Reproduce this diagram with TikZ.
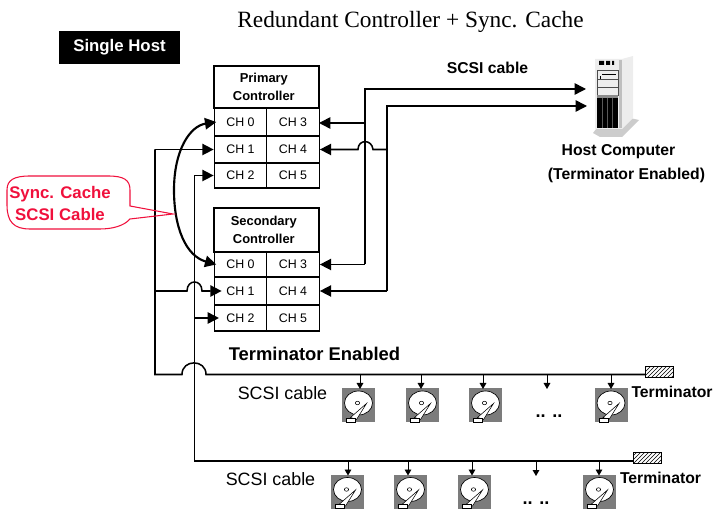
\documentclass[tikz,border=0pt]{standalone}
\usepackage{fontspec}
\setmainfont{Liberation Sans}
\newfontfamily\titlefont{Liberation Serif}
\usetikzlibrary{arrows.meta,patterns}
\definecolor{callred}{HTML}{F0103C}
\definecolor{diskgray}{HTML}{7C7C7C}
\tikzset{
  cable/.style={line width=1.15pt},
  cablearrow/.style={cable, -{Triangle[length=8.5pt,width=8.5pt]}},
  synccable/.style={line width=1.6pt, {Triangle[length=8.5pt,width=8.5pt]}-{Triangle[length=8.5pt,width=8.5pt]}},
  droparrow/.style={line width=0.7pt, -{Triangle[length=4.5pt,width=5pt]}},
  ctlbox/.style={draw, line width=0.9pt, minimum width=78.75pt, align=center, font=\fontsize{9.7}{13.5}\selectfont\bfseries},
  chcell/.style={draw, line width=0.9pt, minimum width=39.4pt, inner sep=0pt, font=\fontsize{9.3}{11}\selectfont},
  boldlabel/.style={font=\fontsize{11.8}{18}\selectfont\bfseries, align=center},
  plainlabel/.style={font=\fontsize{13.4}{16}\selectfont},
  dotslabel/.style={font=\fontsize{13.6}{16}\selectfont\bfseries},
  termbox/.style={draw, line width=0.6pt, pattern=north east lines, minimum width=21.5pt, minimum height=8.6pt, inner sep=0pt},
  pics/hdd/.style={code={
    \fill[diskgray] (-16.5,-17.5) rectangle (16.5,17);
    \draw[line width=0.5pt, fill=white] (0,-2.5) ellipse [x radius=10.5pt, y radius=9pt];
    \draw[line width=0.4pt] (-1,-2.5) ellipse [x radius=1.6pt, y radius=1.3pt];
    \draw[line width=0.4pt, fill=white] (8,-2) -- (-8,12) -- (-2,14) -- cycle;
    \draw[line width=0.4pt, fill=white] (-12,12.5) rectangle (-3,16.5);
  }}
}
\begin{document}
\begin{tikzpicture}[x=0.75pt, y=-0.75pt]
  \useasboundingbox (0,0) rectangle (714,509);

  % title and host tag
  \node[font=\titlefont\fontsize{17.5}{20}\selectfont] (title) at (410.5,21.5) {Redundant Controller + Sync. Cache};
  \node[fill=black, text=white, minimum width=90.75pt, minimum height=24.75pt, inner sep=0pt,
        font=\fontsize{12.6}{15}\selectfont\bfseries] (hosttag) at (119.5,47.5) {Single Host};

  % primary controller
  \node[ctlbox, minimum height=31.5pt] (pctl) at (266.5,87) {Primary\hspace*{4pt}\\Controller\hspace*{4pt}};
  \node[chcell, minimum height=21pt] (pch0) at (240.5,122) {CH 0};
  \node[chcell, minimum height=20.25pt] (pch1) at (240.5,149.5) {CH 1};
  \node[chcell, minimum height=18.75pt] (pch2) at (240.5,175.5) {CH 2};
  \node[chcell, minimum height=21pt] (pch3) at (293,122) {CH 3};
  \node[chcell, minimum height=20.25pt] (pch4) at (293,149.5) {CH 4};
  \node[chcell, minimum height=18.75pt] (pch5) at (293,175.5) {CH 5};

  % secondary controller
  \node[ctlbox, minimum height=33pt] (sctl) at (266.5,230) {Secondary\hspace*{4pt}\\Controller\hspace*{4pt}};
  \node[chcell, minimum height=18.75pt] (sch0) at (240.5,264.5) {CH 0};
  \node[chcell, minimum height=21pt] (sch1) at (240.5,291) {CH 1};
  \node[chcell, minimum height=19.5pt] (sch2) at (240.5,318) {CH 2};
  \node[chcell, minimum height=18.75pt] (sch3) at (293,264.5) {CH 3};
  \node[chcell, minimum height=21pt] (sch4) at (293,291) {CH 4};
  \node[chcell, minimum height=19.5pt] (sch5) at (293,318) {CH 5};

  % host computer
  \fill[black!20] (593,133) -- (603,120) -- (630,118) -- (639,120) -- (622,137) -- (600,137) -- cycle;
  \fill[black!7] (595,59) -- (622,59) -- (633,56) -- (633,118) -- (622,129) -- (595,129) -- cycle;
  \fill[black!25] (619,60) rectangle (622,128);
  \draw[black!70, line width=0.5pt] (597,70) rectangle (618,95);
  \draw[black!70, line width=0.5pt] (597,79) -- (618,79) (597,87) -- (618,87);
  \draw[line width=0.5pt] (602,74.5) -- (616,74.5) (600,76) -- (600,79);
  \fill (599,61) rectangle (604,65) (606,61) rectangle (610,65) (612,61) rectangle (614,65);
  \fill[black!45] (597,95.5) rectangle (618,98);
  \fill (597,98) rectangle (618,128);
  \foreach \x in {602,607,612} {
    \draw[black!65, line width=0.3pt] (\x,98) -- (\x,128);
  }
  \coordinate (hostA) at (586,89);
  \coordinate (hostB) at (587,106);
  \node[boldlabel] (hostlabel) at (626.5,164) {Host Computer\hspace*{12pt}\\(Terminator Enabled)};

  % host side cables
  \coordinate (riseA) at (365,89);
  \coordinate (riseB) at (387,106);
  \coordinate (pch3in) at (319,123);
  \draw[cablearrow] (riseA |- sch3) -- (riseA) -- (hostA);
  \draw[cablearrow] (riseB |- sch4) -- (riseB) -- (hostB);
  \draw[cablearrow] (riseA |- pch3in) -- (pch3in);
  \draw[cablearrow] (riseB |- pch4) -- (373,149.5) .. controls (372,139) and (358,139) .. (358,149.5) -- (pch4.east);
  \draw[cablearrow] (riseA |- sch3) -- (sch3.east);
  \draw[cablearrow] (riseB |- sch4) -- (sch4.east);

  % drive side cables
  \node[termbox] (termA) at (659.5,372) {};
  \node[termbox] (termB) at (647.5,458) {};
  \coordinate (busA) at (155,374.5);
  \coordinate (busB) at (194.5,461);
  \draw[cable] (busA |- pch1) -- (busA) -- (182,374.5)
    .. controls (182,359) and (206,359) .. (206,374.5) -- (termA.west |- busA);
  \draw[cable] (busB |- pch2) -- (busB) -- (termB.west |- busB);
  \draw[cablearrow] (busA |- pch1) -- (pch1.west);
  \draw[cablearrow] (busB |- pch2) -- (pch2.west);
  \draw[cablearrow] (busA |- sch1) -- (187,291) .. controls (187,279) and (202,279) .. (202,291) -- ([xshift=6pt]sch1.west);
  \draw[cablearrow] (busB |- sch2) -- ([xshift=4pt]sch2.west);

  % sync cache cable
  \draw[synccable] ([xshift=2pt]pch0.west) .. controls (190,126) and (174,150) .. (174,190)
    .. controls (174,228) and (186,256) .. ([xshift=2pt]sch0.west);

  % callout
  \coordinate (calltip) at (173,214);
  \draw[callred, line width=0.8pt] (30,176) -- (108,176) .. controls (124,176) and (130,180) .. (130,190)
    -- (130,206) -- (calltip) -- (130,219) .. controls (124,226) and (112,229) .. (100,229)
    -- (30,229) .. controls (14,229) and (7,222) .. (7,205) -- (7,190) .. controls (7,180) and (14,176) .. cycle;
  \node[text=callred, font=\fontsize{12.6}{16.5}\selectfont\bfseries, align=center] (calltext) at (60,203.5) {Sync. Cache\\SCSI Cable};

  % labels
  \node[boldlabel] (hostcable) at (487.5,68) {SCSI cable};
  \node[font=\fontsize{13.8}{16}\selectfont\bfseries] (termenabled) at (314.5,354) {Terminator Enabled};
  \node[plainlabel] (cableA) at (282.5,393) {SCSI cable};
  \node[plainlabel] (cableB) at (270.5,479) {SCSI cable};
  \node[boldlabel] (termlabelA) at (672,392) {Terminator};
  \node[boldlabel] (termlabelB) at (660.5,478) {Terminator};

  % first row of drives
  \foreach \n/\x/\d in {a/358.5/360,b/422.5/421,c/485.5/483,d/611/611} {
    \pic (disk\n) at (\x,405.5) {hdd};
    \draw[droparrow] (\d,374.5) -- (\d,389);
  }
  \draw[droparrow] (547,374.5) -- (547,389);
  \node[dotslabel] (dotsA) at (549,416) {.. ..};

  % second row of drives
  \foreach \n/\x/\d in {e/347.5/348,f/410.5/408,g/474.5/472,h/599.5/599} {
    \pic (disk\n) at (\x,492) {hdd};
    \draw[droparrow] (\d,461) -- (\d,475.5);
  }
  \draw[droparrow] (536,461) -- (536,476);
  \node[dotslabel] (dotsB) at (536,503) {.. ..};
\end{tikzpicture}
\end{document}
